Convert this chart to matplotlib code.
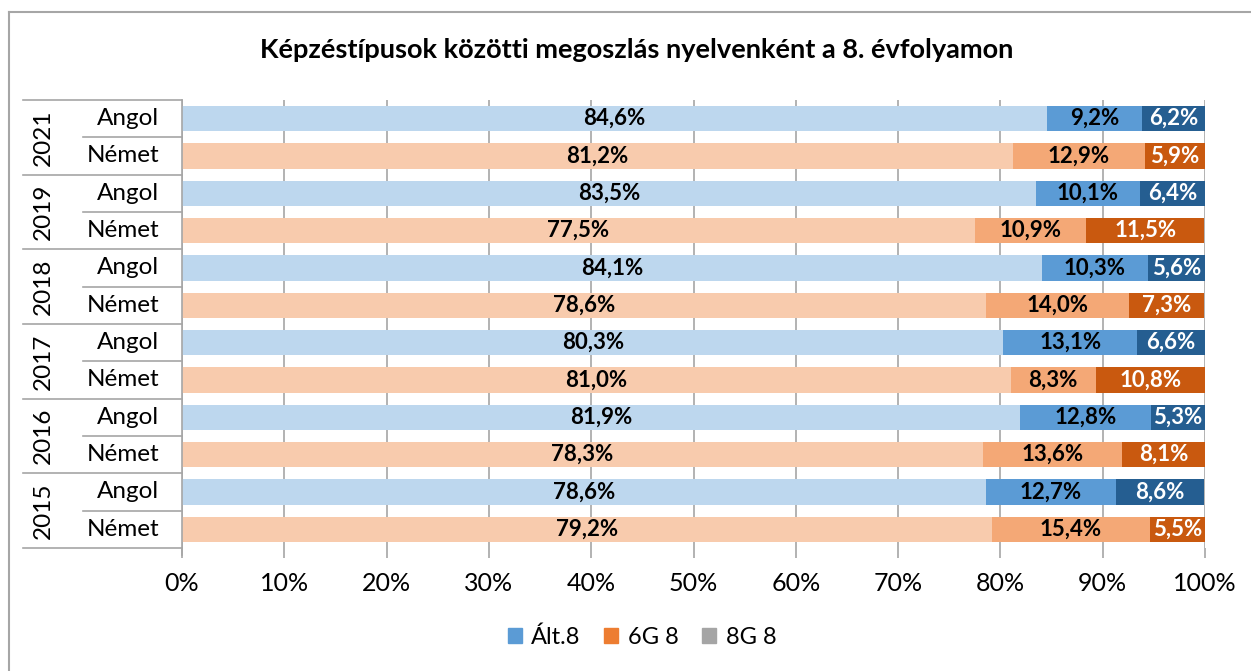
import matplotlib
matplotlib.use("Agg")
import matplotlib.pyplot as plt
from matplotlib.lines import Line2D
from matplotlib.patches import Patch
import numpy as np

plt.rcParams['font.family'] = ['Lato', 'DejaVu Sans']

years = ["2021", "2019", "2018", "2017", "2016", "2015"]
languages = ["Angol", "Német"]
alt8 = [84.6, 81.2, 83.5, 77.5, 84.1, 78.6, 80.3, 81.0, 81.9, 78.3, 78.6, 79.2]
g6 = [9.2, 12.9, 10.1, 10.9, 10.3, 14.0, 13.1, 8.3, 12.8, 13.6, 12.7, 15.4]
g8 = [6.2, 5.9, 6.4, 11.5, 5.6, 7.3, 6.6, 10.8, 5.3, 8.1, 8.6, 5.5]
series_names = ["Ált.8", "6G 8", "8G 8"]
xticks = [0, 10, 20, 30, 40, 50, 60, 70, 80, 90, 100]

W, H = 1251, 671
fig = plt.figure(figsize=(W / 100, H / 100), dpi=100)

x0, x1 = 182, 1205
y0, y1 = 100, 548
ax = fig.add_axes([x0 / W, 1 - y1 / H, (x1 - x0) / W, (y1 - y0) / H])

n = len(alt8)
ypos = np.arange(n)
blue_cols = ["#BDD7EE", "#5B9BD5", "#255E91"]
orng_cols = ["#F8CBAD", "#F4A876", "#C9590F"]
txt_cols = ["black", "black", "white"]

vals = [alt8, g6, g8]
left = np.zeros(n)
for s in range(3):
    v = np.array(vals[s])
    cols = [blue_cols[s] if i % 2 == 0 else orng_cols[s] for i in range(n)]
    ax.barh(ypos, v, left=left, height=0.67, color=cols, zorder=2)
    for i in range(n):
        ax.text(left[i] + v[i] / 2, ypos[i], f"{v[i]:.1f}%".replace(".", ","),
                ha="center", va="center", fontsize=16, fontweight="bold",
                color=txt_cols[s], zorder=3)
    left = left + v

ax.set_xlim(0, 100)
ax.set_ylim(n - 0.5, -0.5)
ax.set_xticks(xticks)
ax.set_xticklabels([f"{t}%" for t in xticks], fontsize=18)
ax.set_yticks([])
ax.grid(axis="x", color="#A6A6A6", linewidth=1.2, zorder=1)
ax.tick_params(axis="x", length=7, color="#A6A6A6", width=1.2, pad=10)
for s in ["top", "right", "bottom"]:
    ax.spines[s].set_visible(False)
ax.spines["left"].set_color("#A6A6A6")
ax.spines["left"].set_linewidth(1.2)

# left spine extension below
ax.add_line(Line2D([0, 0], [n - 0.5, n - 0.5 + 7 / 37.33], color="#A6A6A6", lw=1.2, clip_on=False))

# category table (figure pixel coords)
def fx(px):
    return px / W

def fy(py):
    return 1 - py / H

row_h = (y1 - y0) / n
for k in range(n + 1):
    yy = y0 + k * row_h
    xs = 23 if k % 2 == 0 else 83
    fig.add_artist(Line2D([fx(xs), fx(x0)], [fy(yy), fy(yy)], color="#A6A6A6", lw=1.2))

for i in range(n):
    yc = y0 + (i + 0.5) * row_h
    fig.text(fx(159), fy(yc), languages[i % 2], ha="right", va="center", fontsize=17.5)
for j, yr in enumerate(years):
    yc = y0 + (2 * j + 1) * row_h
    fig.text(fx(43), fy(yc), yr, ha="center", va="center", rotation=90, fontsize=17.5)

# title
fig.text(fx(637), fy(50), "Képzéstípusok közötti megoszlás nyelvenként a 8. évfolyamon",
         ha="center", va="center", fontsize=19.5, fontweight="bold")

# chart border (top and left)
fig.add_artist(Line2D([fx(9), 1], [fy(12), fy(12)], color="#A6A6A6", lw=1.5))
fig.add_artist(Line2D([fx(9), fx(9)], [fy(12), 0], color="#A6A6A6", lw=1.5))

handles = [Patch(color=c) for c in ["#5B9BD5", "#ED7D31", "#A5A5A5"]]
fig.legend(handles, series_names, loc="center", bbox_to_anchor=(fx(642), fy(637)),
           ncol=3, frameon=False, fontsize=17, handlelength=0.6, handleheight=0.6,
           handletextpad=0.4, columnspacing=1.0)

fig.savefig("out.png", dpi=100)
